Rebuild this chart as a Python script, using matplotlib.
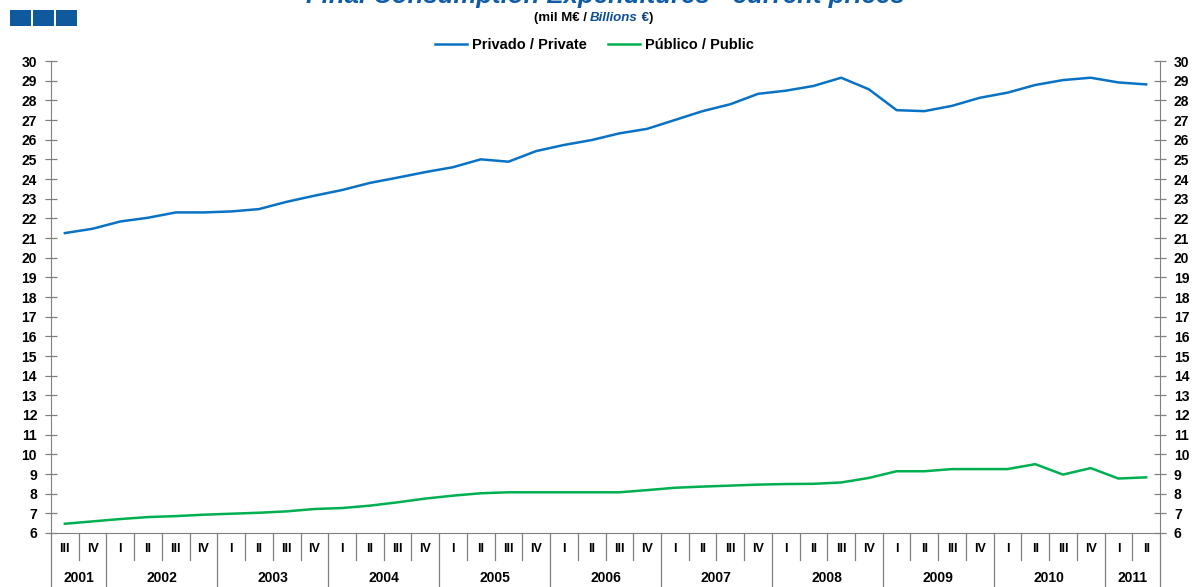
import matplotlib
matplotlib.use("Agg")
import matplotlib.pyplot as plt
from matplotlib.patches import Rectangle
import matplotlib.transforms as mtransforms

plt.rcParams['font.family'] = ['Liberation Sans', 'DejaVu Sans']

# ---- data ----
quarters = ['III', 'IV'] + ['I', 'II', 'III', 'IV'] * 9 + ['I', 'II']
years = ['2001', '2002', '2003', '2004', '2005', '2006', '2007', '2008', '2009', '2010', '2011']
year_counts = [2, 4, 4, 4, 4, 4, 4, 4, 4, 4, 2]

private = [21.25, 21.47, 21.84, 22.03, 22.30, 22.30, 22.35, 22.47, 22.84, 23.15,
           23.44, 23.80, 24.07, 24.35, 24.60, 25.00, 24.88, 25.42, 25.73, 25.98,
           26.32, 26.55, 27.00, 27.45, 27.80, 28.33, 28.49, 28.73, 29.15, 28.56,
           27.50, 27.45, 27.72, 28.13, 28.39, 28.78, 29.03, 29.15, 28.91, 28.81]
public = [6.47, 6.59, 6.71, 6.81, 6.86, 6.93, 6.98, 7.03, 7.10, 7.22,
          7.27, 7.39, 7.56, 7.75, 7.90, 8.02, 8.07, 8.07, 8.07, 8.07,
          8.07, 8.18, 8.30, 8.36, 8.41, 8.46, 8.49, 8.50, 8.57, 8.80,
          9.14, 9.14, 9.25, 9.25, 9.25, 9.50, 8.97, 9.30, 8.77, 8.83]

series_labels = ['Privado / Private', 'Público / Public']
colors = ['#0A72C4', '#00B050']
yticks = list(range(6, 31))

# ---- figure ----
W, H = 1192, 587
fig = plt.figure(figsize=(W / 100, H / 100), dpi=100)
ax = fig.add_axes([51 / W, 54 / H, (1160 - 51) / W, (533 - 61) / H])

n = len(quarters)
xs = [i + 0.5 for i in range(n)]
l1, = ax.plot(xs, private, color=colors[0], lw=1.8, label=series_labels[0])
l2, = ax.plot(xs, public, color=colors[1], lw=1.8, label=series_labels[1])

ax.set_xlim(0, n)
ax.set_ylim(6, 30)
ax.set_yticks(yticks)
ax.set_xticks([])
grey = '#808080'
for s in ['left', 'right', 'bottom']:
    ax.spines[s].set_color(grey)
ax.spines['top'].set_visible(False)
ax.yaxis.set_ticks_position('both')
ax.tick_params(axis='y', direction='inout', length=8, width=0.9, color=grey,
               labelsize=10, pad=6, labelright=True)
for lab in ax.get_yticklabels():
    lab.set_fontweight('bold')

# category axis separators and labels
trans = mtransforms.blended_transform_factory(ax.transData, ax.transAxes)
ax_h = 533 - 61
q_len = 27 / ax_h
y_len = 60 / ax_h
year_bounds = [0]
for c in year_counts:
    year_bounds.append(year_bounds[-1] + c)
for k in range(n + 1):
    length = y_len if k in year_bounds else q_len
    ax.plot([k, k], [0, -length], transform=trans, color=grey, lw=0.9, clip_on=False)
for i, q in enumerate(quarters):
    ax.text(i + 0.5, -16 / ax_h, q, transform=trans, ha='center', va='center',
            fontsize=9, fontweight='bold')
for j, yr in enumerate(years):
    cx = (year_bounds[j] + year_bounds[j + 1]) / 2
    ax.text(cx, -45 / ax_h, yr, transform=trans, ha='center', va='center',
            fontsize=10, fontweight='bold')

# legend
leg = ax.legend(handles=[l1, l2], loc='lower center', bbox_to_anchor=(0.49, 1.0), ncol=2,
                frameon=False, prop={'size': 10.5, 'weight': 'bold'}, handlelength=2.2,
                columnspacing=1.5, handletextpad=0.3, borderaxespad=0.2)

# title (cut off at the top like the reference)
blue_t = '#0F5CA6'
fig.text(605 / W, 1 - 3 / H, 'Final Consumption Expenditures - current prices',
         ha='center', va='baseline', fontsize=18.5, fontweight='bold',
         fontstyle='italic', color=blue_t)

# subtitle
t1 = fig.text(590 / W, 1 - 18 / H, '(mil M€ / ', ha='right', va='center',
              fontsize=9.5, fontweight='bold', color='black')
t2 = fig.text(590 / W, 1 - 18 / H, 'Billions', ha='left', va='center',
              fontsize=9.5, fontweight='bold', fontstyle='italic', color='#0D4F95')
t3 = ax.annotate(' €', xy=(1, 0), xycoords=t2, va='bottom', ha='left',
                 fontsize=9.5, fontweight='bold', color='#103F7A', annotation_clip=False)
ax.annotate(')', xy=(1, 0), xycoords=t3, va='bottom', ha='left',
            fontsize=9.5, fontweight='bold', color='black', annotation_clip=False)

# logo squares
for x0 in [10, 33, 56]:
    fig.add_artist(Rectangle((x0 / W, 1 - 26 / H), 21 / W, 16 / H,
                             transform=fig.transFigure, color='#0F5A9C', lw=0))

fig.savefig('out.png', dpi=100)
